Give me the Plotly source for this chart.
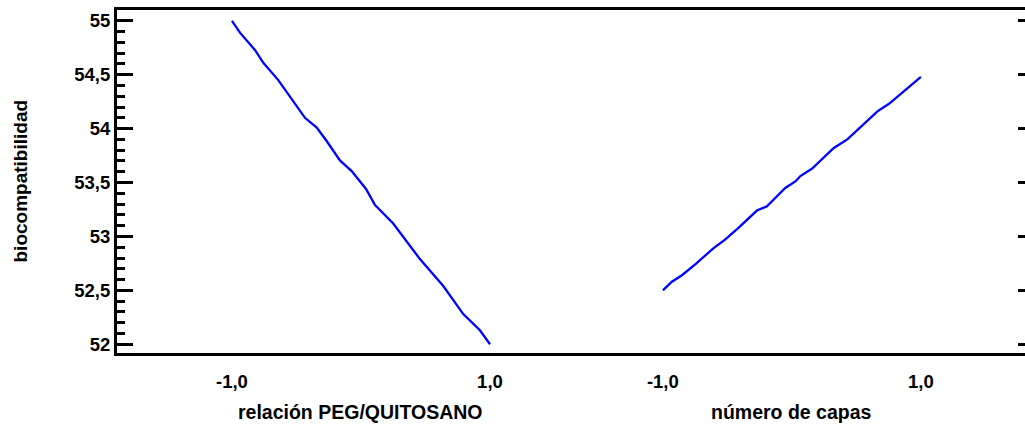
import plotly.graph_objects as go

# Factor 1: relación PEG/QUITOSANO (coded level -> biocompatibilidad)
peg_x = [-1.0, -0.938, -0.822, -0.757, -0.641, -0.550, -0.434, -0.343, -0.266, -0.163,
         -0.072, 0.039, 0.109, 0.250, 0.354, 0.457, 0.638, 0.793, 0.922, 1.0]
peg_y = [55.00, 54.89, 54.73, 54.61, 54.45, 54.30, 54.10, 54.01, 53.885, 53.705,
         53.606, 53.44, 53.29, 53.12, 52.95, 52.79, 52.54, 52.28, 52.13, 52.00]

# Factor 2: número de capas
capas_x = [-1.0, -0.930, -0.852, -0.749, -0.609, -0.518, -0.414, -0.271, -0.193, -0.115,
           -0.051, 0.027, 0.066, 0.157, 0.325, 0.430, 0.663, 0.753, 1.0]
capas_y = [52.50, 52.58, 52.64, 52.74, 52.89, 52.97, 53.08, 53.24, 53.28, 53.37,
           53.45, 53.51, 53.56, 53.63, 53.82, 53.90, 54.16, 54.23, 54.48]

factor_names = ["relación PEG/QUITOSANO", "número de capas"]
level_labels = ["-1,0", "1,0"]
y_label = "biocompatibilidad"
y_tickvals = [52, 52.5, 53, 53.5, 54, 54.5, 55]
y_ticktext = ["52", "52,5", "53", "53,5", "54", "54,5", "55"]

offset2 = 3.34  # horizontal placement of second factor panel

FONT = "Liberation Sans, Arial, sans-serif"
fig = go.Figure()
fig.add_trace(go.Scatter(x=peg_x, y=peg_y, mode="lines",
                         line=dict(color="#0000FF", width=2.3), showlegend=False))
fig.add_trace(go.Scatter(x=[v + offset2 for v in capas_x], y=capas_y, mode="lines",
                         line=dict(color="#0000FF", width=2.3), showlegend=False))
# dummy trace for right-side tick axis
fig.add_trace(go.Scatter(x=[None], y=[None], yaxis="y2", showlegend=False))

yr = [51.919, 55.10]
fig.update_layout(
    width=1025, height=424,
    margin=dict(l=117, r=0, t=10, b=71, autoexpand=False),
    paper_bgcolor="white", plot_bgcolor="white",
    font=dict(family=FONT, color="black"),
    xaxis=dict(range=[-1.891, 5.147], showgrid=False, zeroline=False, automargin=False,
               showline=True, linecolor="black", linewidth=3, mirror=True,
               ticks="", tickvals=[-1, 1, -1 + offset2, 1 + offset2],
               ticktext=level_labels + level_labels,
               tickfont=dict(size=18.5, family=FONT, weight="bold"),
               ticklabelstandoff=10),
    yaxis=dict(range=yr, showgrid=False, zeroline=False, automargin=False,
               showline=True, linecolor="black", linewidth=3,
               ticks="inside", ticklen=16, tickwidth=3, tickcolor="black",
               tickvals=y_tickvals, ticktext=y_ticktext,
               tickfont=dict(size=18.5, family=FONT, weight="bold"),
               minor=dict(ticks="inside", ticklen=8, tickwidth=2.5, tickcolor="black",
                          tickvals=[round(52 + 0.1 * i, 1) for i in range(31)])),
    yaxis2=dict(range=yr, overlaying="y", side="right", showgrid=False, zeroline=False,
                automargin=False, showline=False, ticks="inside", ticklen=7, tickwidth=3,
                tickcolor="black", tickvals=y_tickvals, showticklabels=False),
)
for i, name in enumerate(factor_names):
    fig.add_annotation(x=0 + i * offset2, xref="x", y=0, yref="paper",
                       yanchor="middle", yshift=-59, text=name, showarrow=False,
                       font=dict(size=19.5, family=FONT, weight="bold"))
fig.add_annotation(x=0, xref="paper", xanchor="center", xshift=-97,
                   y=0.5, yref="paper", yanchor="middle", textangle=-90,
                   text=y_label, showarrow=False,
                   font=dict(size=19, family=FONT, weight="bold"))
fig.write_html("out.html", config={"displayModeBar": False},
               post_script="document.body.style.margin='0';document.body.style.overflow='hidden';")
